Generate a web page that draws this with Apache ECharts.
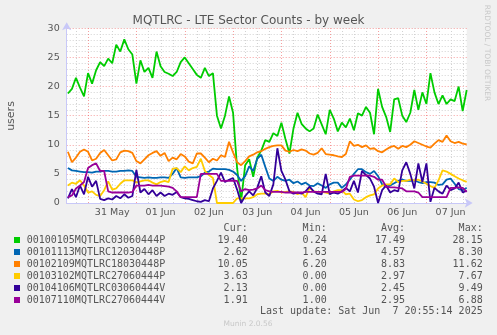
<!DOCTYPE html>
<html>
<head>
<meta charset="utf-8">
<script src="https://cdn.jsdelivr.net/npm/echarts@6/dist/echarts.min.js"></script>
<style>
html,body{margin:0;padding:0;background:#f0f0f0;}
#chart{width:497px;height:335px;}
</style>
</head>
<body>
<div id="chart"></div>
<script>
// ---- data (hours relative to 31 May 00:00, sampled every 2 hours) ----
const START_HOUR = -10;
const STEP_HOURS = 2;
const AXIS_MIN = -10.6;
const AXIS_MAX = 188;

const dayLabels = ['31 May','01 Jun','02 Jun','03 Jun','04 Jun','05 Jun','06 Jun','07 Jun'];
const yTicks = [0,5,10,15,20,25,30];

const seriesNames = ['00100105MQTLRC03060444P','00101113MQTLRC12030448P','00102109MQTLRC18030448P','00103102MQTLRC27060444P','00104106MQTLRC03060444V','00107110MQTLRC27060444V'];
const seriesColors = ['#00CC00','#0066B3','#FF8000','#FFCC00','#330099','#990099'];

const green = [18.8,19.6,21.5,19.8,18.3,22.3,20.5,22.8,24.2,23.5,24.8,24.0,27.2,26.0,28.1,26.4,25.5,20.5,24.5,22.5,23.2,21.5,26.0,23.5,22.5,22.2,21.8,22.5,24.2,25.0,24.0,23.0,22.0,21.5,23.2,21.8,22.3,15.0,12.8,15.0,18.3,15.5,6.0,0.3,6.5,7.5,4.5,7.8,9.0,10.8,10.5,12.0,11.5,13.8,11.0,8.5,12.8,15.5,13.6,12.8,12.3,12.8,15.2,13.5,11.8,16.0,14.5,12.3,13.8,13.0,14.5,12.5,15.4,15.0,16.5,15.5,11.8,19.6,16.5,14.8,12.2,17.8,18.0,15.0,13.9,15.5,19.4,16.0,19.0,17.0,22.3,19.0,17.0,18.5,17.0,17.8,17.5,20.0,15.8,19.4];
const blue = [6.0,5.6,5.5,5.4,5.3,5.3,5.2,5.4,5.4,5.5,5.5,5.4,5.4,5.5,5.5,5.6,5.5,4.5,4.4,4.3,4.4,4.3,4.3,4.4,4.4,4.3,5.0,6.0,4.4,4.3,4.4,4.4,4.4,4.6,5.2,5.4,5.9,5.8,5.8,5.8,5.7,5.4,4.8,3.8,4.6,6.3,5.5,7.6,8.3,6.2,4.2,3.8,4.5,4.0,3.8,4.0,3.4,3.7,3.2,3.5,3.0,2.9,3.4,3.0,2.6,3.2,3.5,3.5,2.6,3.2,4.0,5.0,5.8,5.8,5.3,5.0,5.5,4.6,3.2,2.8,3.0,3.4,3.8,4.0,3.8,3.8,3.9,3.6,3.4,3.6,3.6,3.5,3.1,3.2,4.0,4.2,3.3,2.4,2.2,2.62];
const orange = [8.8,7.0,7.8,8.8,9.2,8.8,7.3,7.6,8.6,9.1,8.2,7.3,7.5,8.7,9.0,8.9,8.6,7.2,6.8,7.5,8.2,8.6,8.9,8.1,8.6,7.2,7.8,7.5,8.4,8.0,7.1,6.8,8.5,8.5,7.8,7.0,7.6,7.3,8.2,7.9,10.5,8.7,7.0,6.5,7.2,8.0,8.3,8.7,8.9,9.3,9.6,9.8,9.9,9.9,9.0,8.8,9.1,8.9,9.2,9.0,8.5,8.3,8.6,9.4,8.4,8.3,8.2,8.0,7.9,8.4,10.6,9.8,10.0,9.6,9.9,9.3,9.4,8.9,8.7,9.2,9.6,9.8,9.3,9.8,9.6,10.0,10.6,10.3,10.0,9.7,9.5,10.2,10.8,10.5,11.6,10.6,10.3,10.5,10.2,10.05];
const yellow = [3.0,3.5,3.3,3.9,3.0,1.8,2.0,1.4,1.2,2.2,3.7,2.3,2.5,3.3,3.9,3.9,3.9,3.5,3.7,3.9,3.9,3.5,3.2,3.6,3.8,3.6,5.9,6.0,5.3,6.3,5.6,6.0,6.2,7.6,5.5,4.8,4.3,0.0,0.0,0.0,0.0,0.0,0.8,0.8,0.8,0.8,1.0,1.5,1.6,1.6,1.5,2.0,2.1,1.8,1.9,2.0,1.9,1.5,1.8,1.0,2.6,2.0,1.9,1.9,1.8,1.6,2.0,2.2,2.2,1.5,1.6,0.6,0.3,0.5,1.0,1.3,1.5,2.5,3.0,3.2,3.2,4.2,3.6,3.8,3.8,4.0,3.9,4.0,3.7,3.3,2.9,2.6,3.9,5.6,5.4,5.0,4.6,4.2,3.9,3.63];
const indigo = [0.8,2.4,1.0,3.0,1.5,4.5,2.8,3.8,0.7,0.5,0.8,0.6,1.2,0.8,1.5,0.9,1.2,5.7,1.8,2.4,1.5,2.2,1.2,1.8,1.2,1.6,1.4,1.9,1.0,0.8,0.7,0.5,0.3,0.2,0.5,0.3,2.5,3.8,5.2,3.6,4.0,4.3,2.3,0.0,1.2,2.0,1.3,2.6,4.6,1.8,1.2,3.2,9.4,5.5,4.0,2.0,1.6,1.8,1.6,2.0,2.8,2.0,1.6,1.5,5.0,1.5,1.8,1.6,2.0,2.6,2.0,3.8,1.8,5.5,4.8,4.2,2.8,0.0,2.2,3.0,1.8,2.2,2.0,5.6,7.0,5.0,2.5,6.8,3.6,6.8,0.2,2.6,2.0,1.6,3.0,2.2,2.5,3.5,1.8,2.13];
const purple = [1.0,1.3,2.5,3.0,3.6,6.0,6.5,6.8,5.5,5.5,2.0,1.8,1.8,1.8,1.8,1.8,1.9,3.0,3.0,3.0,3.1,3.0,3.0,3.0,2.9,2.8,2.6,2.0,1.0,1.0,1.0,1.0,1.0,5.0,5.0,5.0,5.0,5.0,3.8,3.8,3.8,3.8,3.8,2.0,2.4,2.2,2.3,2.5,3.0,2.2,2.0,1.9,1.9,1.9,1.8,1.8,1.8,1.8,1.8,1.9,1.9,1.9,1.9,1.9,1.9,1.9,1.9,1.9,1.9,2.4,4.5,4.7,4.7,4.7,4.7,4.7,4.5,4.0,4.0,2.8,2.7,2.7,2.6,2.5,2.0,2.0,2.0,1.8,1.0,1.0,1.0,1.0,1.0,1.0,1.0,2.6,2.6,2.7,2.6,1.91];

const curVals = ['19.40','2.62','10.05','3.63','2.13','1.91'];
const minVals = ['0.24','1.63','6.20','0.00','0.00','1.00'];
const avgVals = ['17.49','4.57','8.83','2.97','2.45','2.95'];
const maxVals = ['28.15','8.30','11.62','7.67','9.49','6.88'];
const colHeaders = ['Cur:','Min:','Avg:','Max:'];
const lastUpdate = 'Last update: Sat Jun  7 20:55:14 2025';

// ---- build ----
const allSeries = [green, blue, orange, yellow, indigo, purple];
function toPairs(arr){ return arr.map((v,i)=>[START_HOUR + i*STEP_HOURS, v]); }

const gridLeft = 66.7, gridTop = 28.3, gridRight = 30.3, gridBottom = 132;
const majorColor = 'rgba(240,80,80,0.55)';
const minorColor = '#d2d2d2';

// vertical grid hours (every 6 h, red at midnight)
const gridHours = [];
for (let h = -6; h <= AXIS_MAX; h += 6) gridHours.push([h, (h % 24 === 0) ? 1 : 0]);
const labelHours = dayLabels.map((d,i)=>12 + 24*i);

const series = [{
  type: 'custom', z: 1, silent: true, data: gridHours,
  renderItem: function(params, api){
    const h = api.value(0);
    const major = api.value(1) === 1;
    const p1 = api.coord([h, yTicks[0]]);
    const p2 = api.coord([h, yTicks[yTicks.length-1]]);
    const x = Math.round(p1[0]) + 0.5;
    return {type:'line', shape:{x1:x, y1:p1[1], x2:x, y2:p2[1]},
      style:{stroke: major ? majorColor : minorColor, lineWidth:1, lineDash:[1,2]}};
  }
}];
allSeries.forEach((arr, i) => {
  series.push({
    name: seriesNames[i], type: 'line', data: toPairs(arr), z: 2 + i,
    showSymbol: false, symbol: 'none', smooth: false,
    lineStyle: {color: seriesColors[i], width: 1.8}, itemStyle: {color: seriesColors[i]}
  });
});

const monoFont = '10px "DejaVu Sans Mono"';
const textColor = '#555';
const rowY0 = 240, rowStep = 12;
const colRight = [247.7, 326.7, 405, 482.7];
const graphic = [];
graphic.push({type:'text', x: 11, y: 116, rotation: Math.PI/2,
  style:{text:'users', font:'11px "DejaVu Sans"', fill: textColor, align:'center', verticalAlign:'middle'}});
graphic.push({type:'text', x: 487, y: 53, rotation: -Math.PI/2,
  style:{text:'RRDTOOL / TOBI OETIKER', font:'7.5px "DejaVu Sans"', fill:'#c8c8c8', align:'center', verticalAlign:'middle'}});
colHeaders.forEach((h,j)=>{
  graphic.push({type:'text', x: colRight[j], y: 228, style:{text:h, font: monoFont, fill: textColor, align:'right', verticalAlign:'middle'}});
});
seriesNames.forEach((n,i)=>{
  const y = rowY0 + i*rowStep;
  graphic.push({type:'rect', shape:{x:14, y:y-3, width:6, height:6}, style:{fill: seriesColors[i]}});
  graphic.push({type:'text', x: 26.7, y: y, style:{text:n, font: monoFont, fill: textColor, align:'left', verticalAlign:'middle'}});
  [curVals, minVals, avgVals, maxVals].forEach((col,j)=>{
    graphic.push({type:'text', x: colRight[j], y: y, style:{text: col[i], font: monoFont, fill: textColor, align:'right', verticalAlign:'middle'}});
  });
});
graphic.push({type:'text', x: 482.7, y: 311.5, style:{text: lastUpdate, font: monoFont, fill: textColor, align:'right', verticalAlign:'middle'}});
graphic.push({type:'text', x: 248, y: 324.5, style:{text: 'Munin 2.0.56', font: '7.5px "DejaVu Sans"', fill: '#c8c8c8', align:'center', verticalAlign:'middle'}});

const chart = echarts.init(document.getElementById('chart'), null, {renderer: 'canvas'});
chart.setOption({
  animation: false,
  backgroundColor: '#f0f0f0',
  title: {text: 'MQTLRC - LTE Sector Counts - by week', left: 'center', top: 14.5, padding: 0,
    textStyle: {fontFamily: 'DejaVu Sans', fontSize: 12, fontWeight: 'normal', color: '#555'}},
  grid: {left: gridLeft, top: gridTop, right: gridRight, bottom: gridBottom, show: true,
    backgroundColor: '#ffffff', borderWidth: 0},
  xAxis: {
    type: 'value', min: AXIS_MIN, max: AXIS_MAX,
    axisLine: {show: true, onZero: false, symbol: ['none','arrow'], symbolSize: [7,8], symbolOffset: [0,6],
      lineStyle: {color: '#c8c8f8', width: 1}},
    axisTick: {show: false},
    splitLine: {show: false},
    axisLabel: {customValues: labelHours, formatter: (v)=> dayLabels[Math.round((v-12)/24)] || '',
      color: textColor, fontFamily: 'DejaVu Sans', fontSize: 9.5, margin: 5}
  },
  yAxis: {
    type: 'value', min: yTicks[0], max: yTicks[yTicks.length-1], interval: 5,
    axisLine: {show: true, onZero: false, symbol: ['none','arrow'], symbolSize: [7,8], symbolOffset: [0,6],
      lineStyle: {color: '#c8c8f8', width: 1}},
    axisTick: {show: false},
    axisLabel: {color: textColor, fontFamily: 'DejaVu Sans', fontSize: 9.5, margin: 7},
    splitLine: {show: true, lineStyle: {color: majorColor, type: [1,2], width: 1}},
    minorTick: {show: false, splitNumber: 5},
    minorSplitLine: {show: true, lineStyle: {color: minorColor, type: [1,2], width: 1}}
  },
  series: series,
  graphic: graphic
});
</script>
</body>
</html>
